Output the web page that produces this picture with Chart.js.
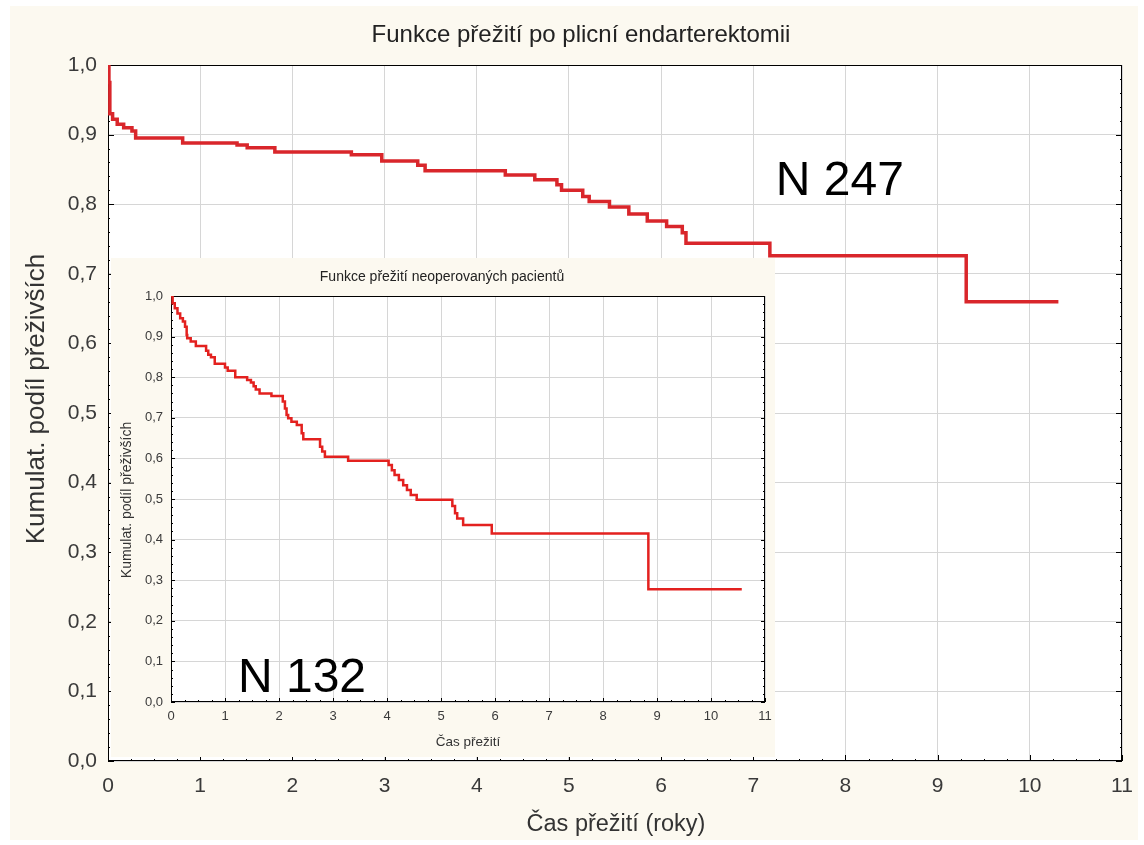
<!DOCTYPE html>
<html>
<head>
<meta charset="utf-8">
<script src="https://cdn.jsdelivr.net/npm/chart.js@4"></script>
<style>
  html, body { margin: 0; padding: 0; background: #fff; }
  #obal { position: relative; width: 1144px; height: 845px; }
  #hlavniBox { position: absolute; left: 10px; top: 6px; width: 1128px; height: 834px; background: #fcf9f0; }
  #vlozenyBox { position: absolute; left: 111px; top: 258px; width: 664px; height: 499px; background: #fcf9f0; }
  canvas { display: block; }
</style>
</head>
<body>
<div id="obal">
  <div id="hlavniBox"><canvas id="hlavni" width="1128" height="834"></canvas></div>
  <div id="vlozenyBox"><canvas id="vlozeny" width="664" height="499"></canvas></div>
</div>
<script>
// Operovaní pacienti (N 247) - čas v letech a kumulativní podíl přežívajících
var casOperovani = [0, 0.01, 0.02, 0.05, 0.10, 0.17, 0.26, 0.30, 0.81, 1.40, 1.51, 1.81, 2.64, 2.97,
  3.36, 3.44, 4.31, 4.63, 4.87, 4.92, 5.15, 5.22, 5.44, 5.65, 5.85, 6.06, 6.23, 6.27, 7.18, 9.31, 10.31];
var preziliOperovani = [1.0, 0.975, 0.930, 0.922, 0.915, 0.910, 0.905, 0.895, 0.888, 0.885, 0.881, 0.875, 0.871, 0.862,
  0.856, 0.848, 0.842, 0.835, 0.828, 0.820, 0.811, 0.804, 0.796, 0.786, 0.776, 0.768, 0.759, 0.744, 0.726, 0.660, 0.660];

// Neoperovaní pacienti (N 132)
var casNeoperovani = [0, 0.03, 0.07, 0.12, 0.17, 0.22, 0.26, 0.29, 0.30, 0.365, 0.46, 0.65, 0.69, 0.74, 0.81,
  1.00, 1.05, 1.19, 1.41, 1.48, 1.53, 1.57, 1.64, 1.86, 2.07, 2.11, 2.14, 2.17, 2.23, 2.33, 2.42, 2.45,
  2.76, 2.80, 2.85, 3.28, 4.03, 4.09, 4.14, 4.22, 4.30, 4.37, 4.44, 4.55, 5.21, 5.26, 5.30, 5.41, 5.94, 8.84, 10.57];
var preziliNeoperovani = [1.0, 0.982, 0.970, 0.957, 0.945, 0.937, 0.924, 0.904, 0.896, 0.888, 0.877, 0.865, 0.855, 0.849, 0.833,
  0.824, 0.816, 0.800, 0.793, 0.787, 0.778, 0.770, 0.760, 0.754, 0.740, 0.723, 0.707, 0.699, 0.690, 0.682, 0.662, 0.647,
  0.629, 0.617, 0.604, 0.594, 0.584, 0.571, 0.559, 0.547, 0.534, 0.522, 0.510, 0.498, 0.483, 0.465, 0.452, 0.436, 0.415, 0.278, 0.278];

var rokyMin = 0, rokyMax = 11;
var pismo = '"Liberation Sans", Arial, sans-serif';

function body(casy, hodnoty) {
  return casy.map(function (t, i) { return { x: t, y: hodnoty[i] }; });
}

function carka(v) {
  return v.toFixed(1).replace('.', ',');
}

// bílá plocha grafu, rámeček, značky dovnitř a popisky
var ramecek = {
  id: 'ramecek',
  beforeDraw: function (chart) {
    var a = chart.chartArea, ctx = chart.ctx;
    ctx.save();
    ctx.fillStyle = '#ffffff';
    ctx.fillRect(a.left, a.top, a.right - a.left, a.bottom - a.top);
    ctx.restore();
  },
  beforeDatasetsDraw: function (chart, args, opts) {
    var a = chart.chartArea, ctx = chart.ctx;
    var x = chart.scales.x, y = chart.scales.y;
    ctx.save();
    ctx.strokeStyle = '#000';
    ctx.lineWidth = 1;
    ctx.strokeRect(a.left + 0.5, a.top + 0.5, a.right - a.left - 1, a.bottom - a.top - 1);
    ctx.beginPath();
    var i, px, py, d;
    for (i = 0; i <= 44; i++) {
      px = Math.round(x.getPixelForValue(i / 4)) + 0.5;
      d = i % 4 === 0 ? opts.velka : opts.mala;
      ctx.moveTo(px, a.bottom); ctx.lineTo(px, a.bottom - d);
    }
    for (i = 0; i <= 50; i++) {
      py = Math.round(y.getPixelForValue(i / 50)) + 0.5;
      d = i % 5 === 0 ? opts.velka : opts.mala;
      ctx.moveTo(a.left, py); ctx.lineTo(a.left + d, py);
      ctx.moveTo(a.right, py); ctx.lineTo(a.right - d, py);
    }
    ctx.stroke();
    ctx.restore();
  },
  afterDatasetsDraw: function (chart, args, opts) {
    var ctx = chart.ctx;
    ctx.save();
    ctx.fillStyle = '#000';
    ctx.font = opts.pismo + 'px ' + pismo;
    ctx.textBaseline = 'alphabetic';
    ctx.fillText(opts.text, chart.scales.x.getPixelForValue(opts.x), chart.scales.y.getPixelForValue(opts.y));
    // nadpis a názvy os
    opts.texty.forEach(function (t) {
      ctx.save();
      ctx.translate(t.x, t.y);
      ctx.rotate(t.rot || 0);
      ctx.fillStyle = t.barva || '#333';
      ctx.font = t.vel + 'px ' + pismo;
      ctx.textAlign = 'center';
      ctx.textBaseline = 'middle';
      ctx.fillText(t.text, 0, 0);
      ctx.restore();
    });
    ctx.restore();
  }
};

function nastaveni(p) {
  return {
    type: 'line',
    data: {
      datasets: [{
        data: p.data,
        borderColor: p.barva,
        borderWidth: p.tloustka,
        stepped: true,
        pointRadius: 0,
        fill: false
      }]
    },
    plugins: [ramecek],
    options: {
      responsive: false,
      animation: false,
      layout: { padding: { left: 0, right: p.vpravo, top: p.nahore, bottom: 0 } },
      plugins: {
        legend: { display: false },
        tooltip: { enabled: false },
        title: { display: false },
        ramecek: { velka: p.velka, mala: p.mala, text: p.n, x: p.nX, y: p.nY, pismo: p.nPismo, texty: p.texty }
      },
      scales: {
        x: {
          type: 'linear', min: rokyMin, max: rokyMax,
          afterFit: function (s) { s.height = p.vyskaX; s.paddingLeft = 0; s.paddingRight = 0; },
          grid: { color: '#d6d6d6', drawTicks: false },
          border: { display: false },
          ticks: {
            stepSize: 1, padding: p.odsazeniX, color: '#3a3a3a',
            font: { family: pismo, size: p.pismo },
            callback: function (v) { return v; }
          }
        },
        y: {
          min: 0, max: 1,
          afterFit: function (s) { s.width = p.sirkaY; },
          grid: { color: '#d6d6d6', drawTicks: false },
          border: { display: false },
          ticks: {
            stepSize: 0.1, padding: p.odsazeniY, color: '#3a3a3a',
            font: { family: pismo, size: p.pismo },
            callback: function (v) { return carka(v); }
          }
        }
      }
    }
  };
}

new Chart(document.getElementById('hlavni'), nastaveni({
  data: body(casOperovani, preziliOperovani),
  barva: '#d9262b', tloustka: 3.5,
  nahore: 59, vpravo: 16, vyskaX: 79, sirkaY: 98,
  pismo: 21, odsazeniX: 13, odsazeniY: 11,
  velka: 6, mala: 2,
  n: 'N 247', nX: 7.245, nY: 0.813, nPismo: 48,
  texty: [
    { text: 'Funkce přežití po plicní endarterektomii', x: 571, y: 29, vel: 24, barva: '#222' },
    { text: 'Čas přežití (roky)', x: 606, y: 819, vel: 23.5 },
    { text: 'Kumulat. podíl přeživších', x: 27, y: 393, vel: 26, rot: -Math.PI / 2 }
  ]
}));

new Chart(document.getElementById('vlozeny'), nastaveni({
  data: body(casNeoperovani, preziliNeoperovani),
  barva: '#e3211f', tloustka: 2.5,
  nahore: 38, vpravo: 10, vyskaX: 55, sirkaY: 60,
  pismo: 13, odsazeniX: 7, odsazeniY: 8,
  velka: 4, mala: 2,
  n: 'N 132', nX: 1.24, nY: 0.025, nPismo: 48,
  texty: [
    { text: 'Funkce přežití neoperovaných pacientů', x: 331, y: 19, vel: 14, barva: '#222' },
    { text: 'Čas přežití', x: 357, y: 484, vel: 13.5 },
    { text: 'Kumulat. podíl přeživších', x: 16, y: 242, vel: 14, rot: -Math.PI / 2 }
  ]
}));
</script>
</body>
</html>
